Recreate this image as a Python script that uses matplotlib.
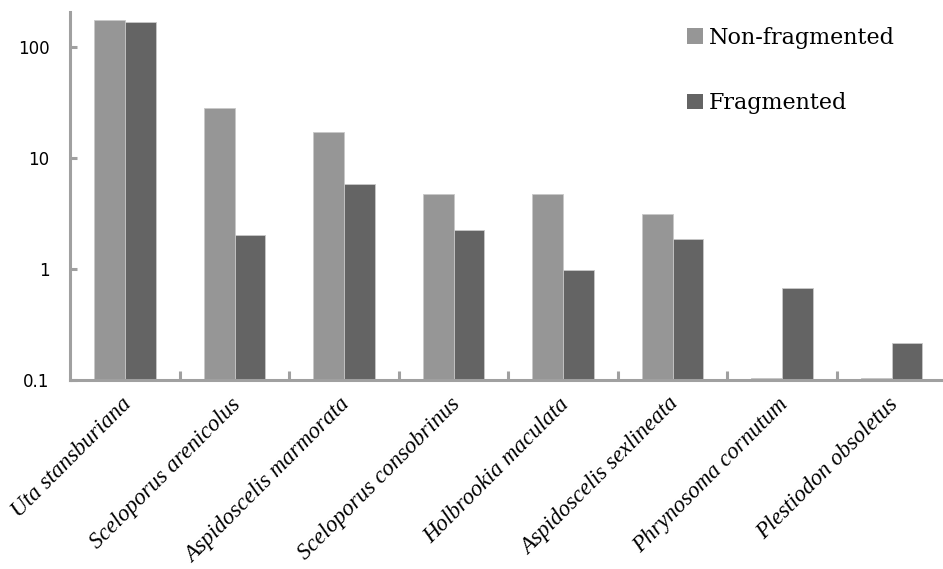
import matplotlib
matplotlib.use("Agg")
import matplotlib.pyplot as plt
import numpy as np
from matplotlib.patches import Patch
from matplotlib.ticker import FixedLocator, NullLocator

species = ["Uta stansburiana", "Sceloporus arenicolus", "Aspidoscelis marmorata",
           "Sceloporus consobrinus", "Holbrookia maculata", "Aspidoscelis sexlineata",
           "Phrynosoma cornutum", "Plestiodon obsoletus"]
non_fragmented = [174, 28.2, 17.0, 4.75, 4.75, 3.13, 0.105, 0.105]
fragmented = [168, 2.0, 5.85, 2.23, 0.97, 1.86, 0.67, 0.214]
yticks = [0.1, 1, 10, 100]
ytick_labels = ["0.1", "1", "10", "100"]

c_non = "#969696"
c_frag = "#646464"
axis_col = "#a0a0a0"

fig = plt.figure(figsize=(9.43, 5.69), dpi=100)
ax = fig.add_axes([70.3 / 943, 1 - 380 / 569, 876 / 943, (380 - 11.7) / 569])
ax.set_yscale("log")

x = np.arange(len(species))
w = 0.279
ax.bar(x - w / 2, non_fragmented, width=w, bottom=1e-9, color=c_non,
       edgecolor="#c8c8c8", linewidth=0.6, zorder=2)
ax.bar(x + w / 2, fragmented, width=w, bottom=1e-9, color=c_frag,
       edgecolor="#c8c8c8", linewidth=0.6, zorder=2)

ax.set_xlim(-0.5, len(species) - 0.5)
ax.set_ylim(0.1, 206)

for s in ["top", "right"]:
    ax.spines[s].set_visible(False)
for s in ["left", "bottom"]:
    ax.spines[s].set_color(axis_col)
    ax.spines[s].set_linewidth(2.2)
    ax.spines[s].set_zorder(3)

ax.yaxis.set_major_locator(FixedLocator(yticks))
ax.yaxis.set_minor_locator(NullLocator())
ax.set_yticklabels(ytick_labels, fontfamily="DejaVu Sans", fontsize=12)
ax.tick_params(axis="y", which="major", direction="in", length=5, width=2.2,
               color=axis_col, pad=15)

# label anchors nudged slightly left of the category centres
ax.set_xticks(x - 0.04)
ax.set_xticklabels(species, rotation=45, ha="right", rotation_mode="anchor",
                   fontfamily="Liberation Serif", fontstyle="italic", fontsize=16.5)
ax.tick_params(axis="x", which="major", length=0, pad=10)
ax.xaxis.set_minor_locator(FixedLocator(np.arange(0.5, len(species) - 0.5, 1.0)))
ax.tick_params(axis="x", which="minor", direction="in", length=6.5, width=2.2,
               color=axis_col)

handles = [Patch(facecolor=c_non, edgecolor="none", label="Non-fragmented"),
           Patch(facecolor=c_frag, edgecolor="none", label="Fragmented")]
fig.legend(handles=handles, loc="upper left",
           bbox_to_anchor=(687 / 943, 1 - 27 / 569), frameon=False,
           prop={"family": "DejaVu Serif", "size": 16},
           handlelength=0.7, handleheight=0.7, handletextpad=0.3,
           labelspacing=1.95, borderpad=0, borderaxespad=0)

fig.savefig("out.png", dpi=100)
